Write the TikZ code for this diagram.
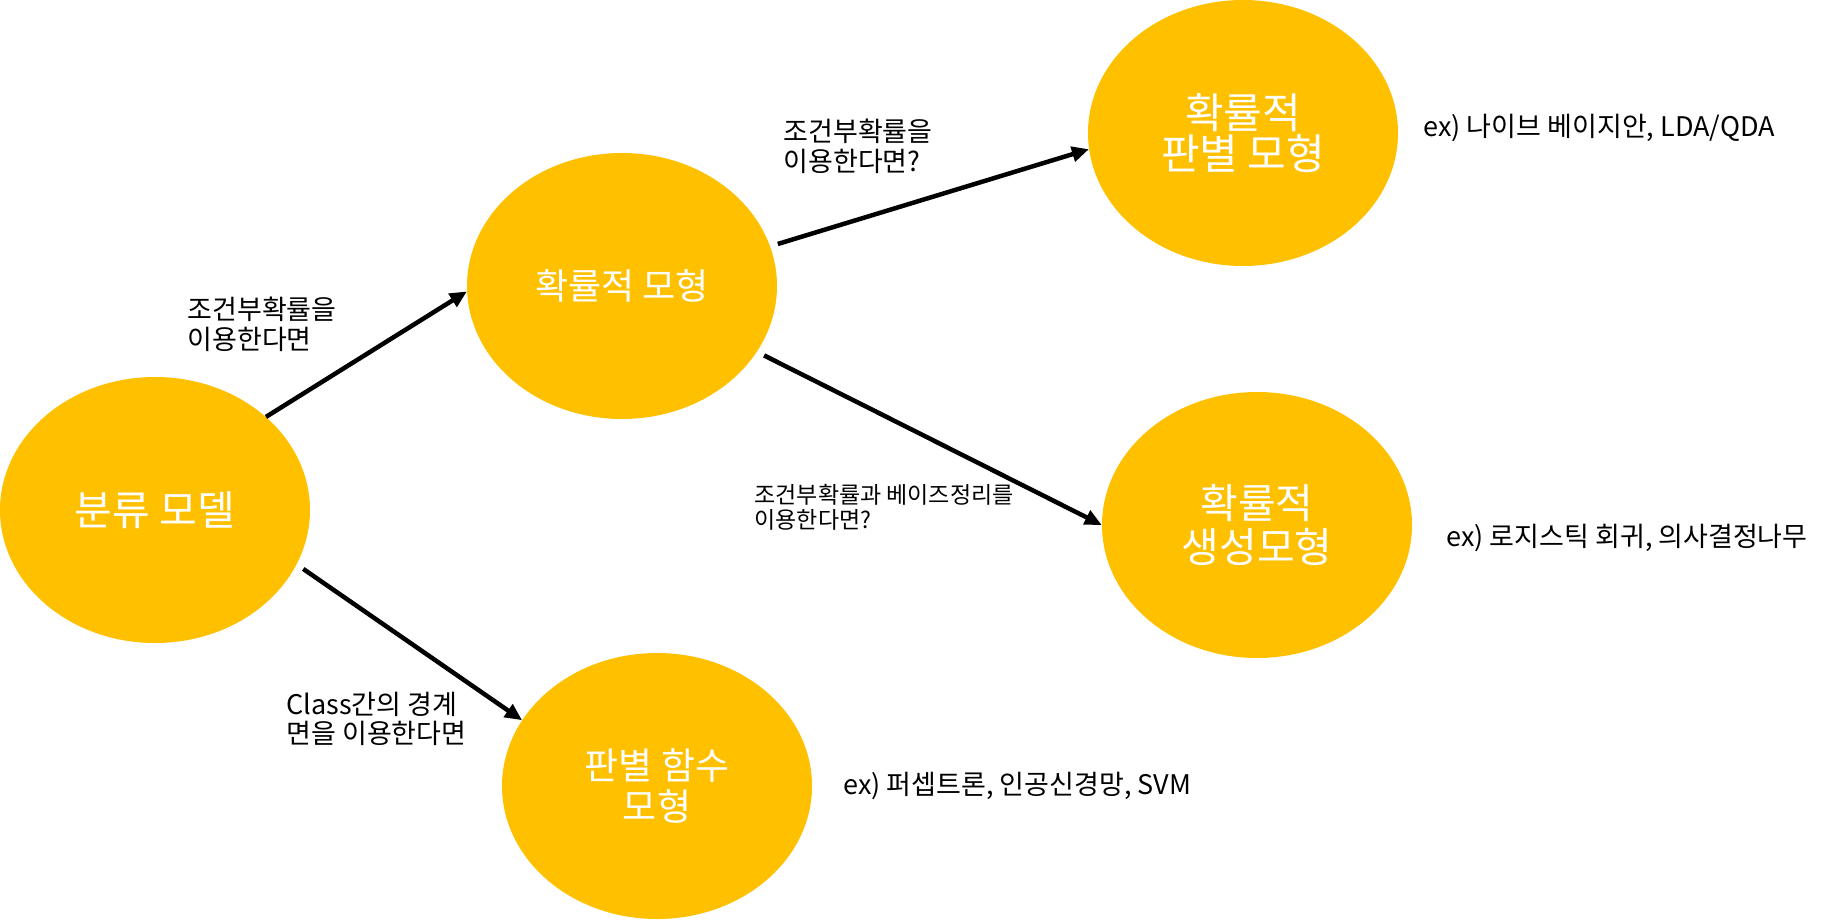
\documentclass[tikz,border=0pt]{standalone}
\usepackage{fontspec}
\setmainfont{Noto Sans CJK KR}
\usetikzlibrary{shapes.geometric,arrows.meta}
\definecolor{modelgold}{HTML}{FFC000}

\begin{document}
\begin{tikzpicture}[x=1pt,y=1pt,
    model/.style={ellipse,fill=modelgold,minimum width=310pt,minimum height=266pt,inner sep=0pt,text=white,align=center},
    cond/.style={anchor=west,align=left,font=\fontsize{27}{30}\selectfont},
    example/.style={anchor=west,font=\fontsize{27}{30}\selectfont},
    flow/.style={-{Triangle[length=17pt,width=15pt]},line width=4.5pt}]
  \useasboundingbox (0,0) rectangle (1831,-919);
  % models
  \node[model,font=\fontsize{41}{46}\selectfont] (cls) at (155,-510) {분류 모델};
  \node[model,font=\fontsize{36}{40}\selectfont] (prob) at (622,-286) {확률적 모형};
  \node[model,font=\fontsize{42}{41}\selectfont] (disc) at (1243,-133) {확률적\\판별 모형};
  \node[model,font=\fontsize{41}{44}\selectfont] (gen) at (1257,-525) {확률적\\생성모형};
  \node[model,font=\fontsize{37}{41}\selectfont] (func) at (657,-786) {판별 함수\\모형};
  % arrows
  \draw[flow] (cls.40) -- (prob.182);
  \draw[flow,shorten <=8pt] (cls.-21) -- (func.154);
  \draw[flow,shorten <=8pt] (prob.15) -- (disc.186);
  \draw[flow,shorten <=8pt] (prob.-26) -- (gen.west);
  % conditions
  \node[cond] (c1) at (184,-324) {조건부확률을\\이용한다면};
  \node[cond] (c2) at (780,-146) {조건부확률을\\이용한다면?};
  \node[cond,font=\fontsize{23}{25}\selectfont] (c3) at (751,-507) {조건부확률과 베이즈정리를\\이용한다면?};
  \node[cond,font=\fontsize{27}{29}\selectfont] (c4) at (283,-719) {Class간의 경계\\면을 이용한다면};
  % examples
  \node[example] (e1) at (1420,-128) {ex) 나이브 베이지안, LDA/QDA};
  \node[example] (e2) at (1443,-538) {ex) 로지스틱 회귀, 의사결정나무};
  \node[example] (e3) at (840,-786) {ex) 퍼셉트론, 인공신경망, SVM};
\end{tikzpicture}
\end{document}
